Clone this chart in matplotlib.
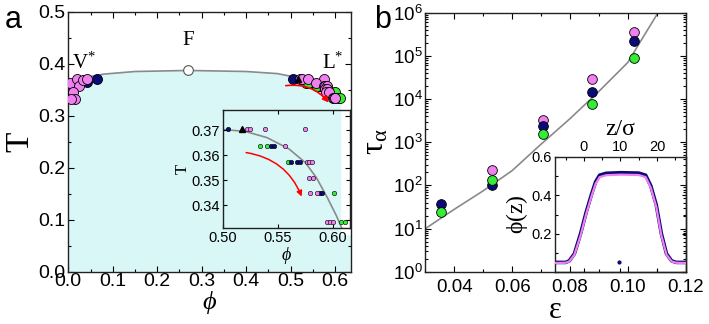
import numpy as np
import matplotlib
matplotlib.use('Agg')
import matplotlib.pyplot as plt
from matplotlib.patches import FancyArrowPatch
from matplotlib.ticker import MultipleLocator, LogLocator, NullFormatter, FuncFormatter

# ---------------- data ----------------
# Panel a : coexistence curve
curve_phi = [0.0, 0.03, 0.08, 0.15, 0.27, 0.40, 0.47, 0.50, 0.53, 0.56, 0.58, 0.60, 0.61]
curve_T = [0.360, 0.372, 0.380, 0.385, 0.387, 0.385, 0.381, 0.376, 0.370, 0.362, 0.354, 0.342, 0.333]
crit_phi = [0.27]
crit_T = [0.387]

# vapour branch
vap_pink_phi = [0.004, 0.020, 0.025, 0.033, 0.043, 0.011, 0.015, 0.005]
vap_pink_T = [0.363, 0.370, 0.357, 0.369, 0.370, 0.346, 0.333, 0.333]
vap_navy_phi = [0.043, 0.064]
vap_navy_T = [0.365, 0.370]

# liquid branch
liq_pink_phi = [0.522, 0.5247, 0.5386, 0.575, 0.5563, 0.576, 0.5785, 0.581,
                0.5785, 0.5823, 0.579, 0.5854, 0.595, 0.5975, 0.600]
liq_pink_T = [0.3704, 0.3704, 0.3704, 0.3704, 0.3637, 0.3571, 0.3571, 0.3571,
              0.3509, 0.3509, 0.3448, 0.3448, 0.3333, 0.3333, 0.3333]
liq_navy_phi = [0.5047, 0.544, 0.546, 0.5617, 0.5674, 0.5696, 0.5886, 0.590]
liq_navy_T = [0.3704, 0.3637, 0.3637, 0.3571, 0.3571, 0.3571, 0.3448, 0.3448]
liq_green_phi = [0.534, 0.5396, 0.5595, 0.6006, 0.607, 0.611]
liq_green_T = [0.3637, 0.3637, 0.3571, 0.3448, 0.3333, 0.3333]
tri_phi = [0.5174]
tri_T = [0.3704]

inset_curve_phi = [0.50, 0.52, 0.54, 0.56, 0.575, 0.585, 0.595, 0.603, 0.608]
inset_curve_T = [0.3702, 0.3695, 0.367, 0.3625, 0.357, 0.351, 0.343, 0.336, 0.331]

arrow_main = [(0.483, 0.357), (0.590, 0.321)]
arrow_inset = [(0.5185, 0.3612), (0.5725, 0.3425)]

# Panel b : relaxation time
eps = [0.0355, 0.053, 0.0705, 0.0875, 0.102]
tau_pink = [np.nan, 226, 3260, 29000, 363000]
tau_navy = [37, 100, 2370, 14800, 224000]
tau_green = [23.7, 133, 1590, 7500, 87700]
fit_eps = [0.03, 0.04, 0.05, 0.06, 0.07, 0.08, 0.09, 0.10, 0.105, 0.1105]
fit_tau = [10, 28, 75, 220, 900, 3500, 15000, 70000, 250000, 1000000]

# inset b : density profile
z_prof = [-8, -5, -4, -2.6, -0.9, 0.6, 2.0, 3.2, 4.3, 6.1, 10, 15, 16.9, 18.3,
          19.8, 21.2, 22.6, 24.0, 25.3, 28]
prof_pink = [0.047, 0.048, 0.055, 0.09, 0.19, 0.30, 0.39, 0.46, 0.495, 0.505, 0.508,
             0.506, 0.495, 0.44, 0.34, 0.19, 0.09, 0.055, 0.048, 0.047]
prof_navy = [0.050, 0.050, 0.058, 0.095, 0.20, 0.31, 0.40, 0.47, 0.505, 0.515, 0.518,
             0.516, 0.505, 0.45, 0.35, 0.20, 0.095, 0.058, 0.050, 0.050]
dot_z = [9.5]
dot_phi = [0.05]

# ---------------- style ----------------
PINK = '#f07ff0'
NAVY = '#0a0a78'
GREEN = '#33ee33'
FILL = '#d9f7f7'
GRAY = '#8a8a8a'
SANS = 'Liberation Sans'
SERIF = 'Liberation Serif'

plt.rcParams['font.family'] = SANS
plt.rcParams['mathtext.fontset'] = 'custom'
plt.rcParams['mathtext.rm'] = SERIF
plt.rcParams['mathtext.it'] = SERIF + ':italic'
plt.rcParams['mathtext.sf'] = SANS

W, H = 709, 324
fig = plt.figure(figsize=(W / 100, H / 100), dpi=100)


def box(x0, y0, x1, y1):
    return [x0 / W, 1 - y1 / H, (x1 - x0) / W, (y1 - y0) / H]


def style_ticks(ax, size, pad=2, major=4, minor=2):
    ax.tick_params(which='both', direction='in', top=True, right=True, width=0.8,
                   labelsize=size, pad=pad)
    ax.tick_params(which='major', length=major)
    ax.tick_params(which='minor', length=minor)
    for s in ax.spines.values():
        s.set_linewidth(1.0)
        s.set_color('#222222')


# ---------------- panel a ----------------
axa = fig.add_axes(box(68.3, 11.7, 351, 271.7))
axa.set_xlim(0, 0.636)
axa.set_ylim(0, 0.5)
fx = list(curve_phi) + [0.614, 0.614, 0.636, 0.636, 0.0]
fy = list(curve_T) + [0.333, 0.07, 0.07, 0.0, 0.0]
axa.fill(fx, fy, color=FILL, lw=0, zorder=0)
axa.plot(curve_phi, curve_T, color=GRAY, lw=1.2, zorder=1)
axa.plot(crit_phi, crit_T, 'o', ms=7, mfc='white', mec='#555555', mew=0.8, zorder=3)
mk = dict(ls='none', marker='o', ms=7.2, mec='black', mew=0.6, zorder=3)
axa.plot(vap_navy_phi, vap_navy_T, mfc=NAVY, **mk)
axa.plot(vap_pink_phi, vap_pink_T, mfc=PINK, **mk)
axa.plot(liq_navy_phi, liq_navy_T, mfc=NAVY, **mk)
axa.plot(liq_green_phi, liq_green_T, mfc=GREEN, **mk)
axa.plot(liq_pink_phi, liq_pink_T, mfc=PINK, **mk)
axa.plot(tri_phi, tri_T, ls='none', marker='^', ms=5, color='black', zorder=4)
axa.add_patch(FancyArrowPatch(arrow_main[0], arrow_main[1], connectionstyle='arc3,rad=-0.3',
                              arrowstyle='-|>', mutation_scale=9, color='red', lw=1.2, zorder=4))
axa.xaxis.set_major_locator(MultipleLocator(0.1))
axa.xaxis.set_minor_locator(MultipleLocator(0.05))
axa.yaxis.set_major_locator(MultipleLocator(0.1))
axa.yaxis.set_minor_locator(MultipleLocator(0.05))
axa.xaxis.set_major_formatter(FuncFormatter(lambda v, p: f'{v:.1f}'))
axa.yaxis.set_major_formatter(FuncFormatter(lambda v, p: f'{v:.1f}'))
style_ticks(axa, 14, pad=2)
axa.tick_params(axis='x', pad=1)
axa.set_xlabel(r'$\phi$', fontsize=19, labelpad=-1)
axa.set_ylabel('T', family=SERIF, fontsize=24, labelpad=2)
axa.text(0.035, 0.40, r'V$^{*}$', family=SERIF, fontsize=15, ha='center', va='center')
axa.text(0.27, 0.445, 'F', family=SERIF, fontsize=15, ha='center', va='center')
axa.text(0.595, 0.40, r'L$^{*}$', family=SERIF, fontsize=15, ha='center', va='center')
fig.text(13 / W, 1 - 20 / H, 'a', fontsize=22, ha='center', va='center')

# inset a
axi = fig.add_axes(box(223, 110, 350, 228))
axi.patch.set_alpha(0)
axi.set_xlim(0.50, 0.6155)
axi.set_ylim(0.331, 0.378)
axi.plot(inset_curve_phi, inset_curve_T, color=GRAY, lw=1.2, zorder=1)
mki = dict(ls='none', marker='o', ms=3.2, mec='black', mew=0.4, zorder=3)
axi.plot(liq_green_phi, liq_green_T, mfc=GREEN, **mki)
axi.plot(liq_navy_phi, liq_navy_T, mfc=NAVY, **mki)
axi.plot(liq_pink_phi, liq_pink_T, mfc=PINK, **mki)
axi.plot(tri_phi, tri_T, ls='none', marker='^', ms=5, color='black', zorder=4)
axi.add_patch(FancyArrowPatch(arrow_inset[0], arrow_inset[1], connectionstyle='arc3,rad=-0.3',
                              arrowstyle='-|>', mutation_scale=8, color='red', lw=1.1, zorder=4))
axi.xaxis.set_major_locator(MultipleLocator(0.05))
axi.yaxis.set_major_locator(MultipleLocator(0.01))
axi.xaxis.set_major_formatter(FuncFormatter(lambda v, p: f'{v:.2f}'))
axi.yaxis.set_major_formatter(FuncFormatter(lambda v, p: f'{v:.2f}'))
style_ticks(axi, 10.5, pad=2, major=3)
axi.set_xlabel(r'$\phi$', fontsize=13, labelpad=0)
axi.set_ylabel('T', family=SERIF, fontsize=12, labelpad=1)

# ---------------- panel b ----------------
axb = fig.add_axes(box(425.5, 12.7, 685.5, 271.7))
axb.set_xlim(0.03, 0.12)
axb.set_yscale('log')
axb.set_ylim(1, 1e6)
axb.plot(fit_eps, fit_tau, color=GRAY, lw=1.2, zorder=1)
mkb = dict(ls='none', marker='o', ms=7, mec='black', mew=0.6, zorder=3)
axb.plot(eps, tau_pink, mfc=PINK, **mkb)
axb.plot(eps, tau_navy, mfc=NAVY, **mkb)
axb.plot(eps, tau_green, mfc=GREEN, **mkb)
axb.xaxis.set_major_locator(MultipleLocator(0.02))
axb.xaxis.set_minor_locator(MultipleLocator(0.01))
axb.xaxis.set_major_formatter(FuncFormatter(lambda v, p: f'{v:.2f}'))
axb.yaxis.set_major_locator(LogLocator(base=10, numticks=10))
axb.yaxis.set_minor_locator(LogLocator(base=10, subs=np.arange(2, 10), numticks=10))
axb.yaxis.set_minor_formatter(NullFormatter())
axb.yaxis.set_major_formatter(FuncFormatter(lambda v, p: r'$\mathsf{10^{%d}}$' % round(np.log10(v))))
style_ticks(axb, 13.5, pad=5)
axb.tick_params(axis='y', pad=2)
axb.set_xlabel('ε', family=SERIF, fontsize=22, labelpad=0)
axb.set_ylabel(r'$\mathrm{\tau_{\alpha}}$', fontsize=23, labelpad=2)
fig.text(383 / W, 1 - 20 / H, 'b', fontsize=22, ha='center', va='center')

# inset b
axj = fig.add_axes(box(555, 157, 685.5, 272))
axj.patch.set_alpha(0)
axj.set_xlim(-7.9, 27.8)
axj.set_ylim(0, 0.6)
axj.plot(z_prof, prof_navy, color=NAVY, lw=2.6, zorder=2)
axj.plot(z_prof, prof_pink, color=PINK, lw=1.6, zorder=3)
axj.plot(dot_z, dot_phi, ls='none', marker='o', ms=2, color=NAVY)
axj.xaxis.set_major_locator(MultipleLocator(10))
axj.xaxis.set_minor_locator(MultipleLocator(5))
axj.yaxis.set_major_locator(MultipleLocator(0.2))
axj.yaxis.set_minor_locator(MultipleLocator(0.1))
axj.xaxis.tick_top()
axj.xaxis.set_label_position('top')
axj.yaxis.set_major_formatter(FuncFormatter(lambda v, p: '' if v < 0.1 else f'{v:.1f}'))
style_ticks(axj, 10.5, pad=2, major=3)
axj.tick_params(axis='x', bottom=True, labelbottom=False, top=True, labeltop=True)
axj.set_xlabel('z/σ', family=SERIF, fontsize=17, labelpad=4)
axj.set_ylabel(r'$\mathrm{\phi(z)}$', fontsize=17, labelpad=1)

fig.savefig('out.png', dpi=100)
